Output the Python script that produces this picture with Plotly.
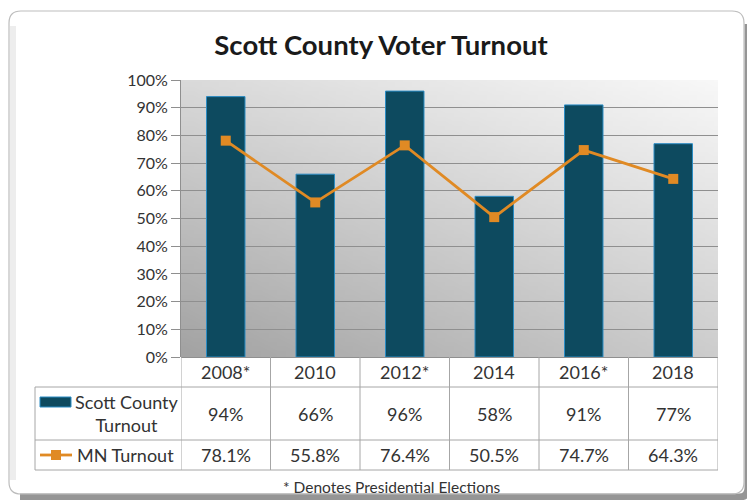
import zlib, struct, base64
import plotly.graph_objects as go

# ---- data ----
years = ["2008*", "2010", "2012*", "2014", "2016*", "2018"]
scott_turnout = [94, 66, 96, 58, 91, 77]
mn_turnout = [78.1, 55.8, 76.4, 50.5, 74.7, 64.3]
y_ticks = [0, 10, 20, 30, 40, 50, 60, 70, 80, 90, 100]
y_tick_labels = [f"{v}%" for v in y_ticks]

OFF = 8                      # page body margin in the browser
W, H = 755 - OFF, 500 - OFF  # figure size
L, R, T, B = 181, 718, 80, 357   # plot area in reference pixels

def px(x):
    return (x - L) / (R - L)

def py(y):
    return (B - y) / (B - T)

# ---- gradient background image (PNG generated in memory) ----
def make_png(w, h):
    rows = []
    for j in range(h):
        yb = 1 - j / (h - 1)  # 1 at top
        row = bytearray()
        for i in range(w):
            xf = i / (w - 1)
            v = 163 + 42 * xf + 55 * yb - 12 * xf * yb
            v = max(0, min(255, int(v)))
            row += bytes((v, v, v))
        rows.append(b"\x00" + bytes(row))
    raw = b"".join(rows)
    def chunk(t, d):
        c = struct.pack(">I", len(d)) + t + d
        return c + struct.pack(">I", zlib.crc32(t + d) & 0xffffffff)
    return (b"\x89PNG\r\n\x1a\n"
            + chunk(b"IHDR", struct.pack(">IIBBBBB", w, h, 8, 2, 0, 0, 0))
            + chunk(b"IDAT", zlib.compress(raw))
            + chunk(b"IEND", b""))

img_uri = "data:image/png;base64," + base64.b64encode(make_png(64, 64)).decode()

FONT = "Lato"
BAR_COLOR = "#0d4a5f"
LINE_COLOR = "#e08a24"
TXT = "#333333"
GRID = "#8f8f8f"
TBL = "#a6a6a6"
TFS = 18  # table font size

fig = go.Figure()
fig.add_trace(go.Bar(
    x=years, y=scott_turnout, name="Scott County Turnout",
    marker=dict(color=BAR_COLOR, line=dict(color="#2b8cc4", width=1)),
    width=0.43, hoverinfo="x+y"))
fig.add_trace(go.Scatter(
    x=years, y=mn_turnout, name="MN Turnout", mode="lines+markers",
    line=dict(color=LINE_COLOR, width=2.8),
    marker=dict(symbol="square", size=10, color=LINE_COLOR)))

shapes = []
annotations = []

def ann(x, y, text, xref="paper", size=TFS, **kw):
    d = dict(x=x, y=y, xref=xref, yref="paper", text=text, showarrow=False,
             xanchor="center", yanchor="middle",
             font=dict(family=FONT, size=size, color=TXT))
    d.update(kw)
    annotations.append(d)

# frame: soft inner band on the left, shadow on right/bottom, light border
shapes.append(dict(type="line", xref="paper", yref="paper",
                   x0=px(13), x1=px(13), y0=py(26), y1=py(480),
                   line=dict(color="#ededed", width=6), layer="below"))
shapes.append(dict(type="path", xref="paper", yref="paper",
                   path=(f"M {px(748)},{py(24)} L {px(748)},{py(488)} "
                         f"Q {px(748)},{py(497)} {px(739)},{py(497)} L {px(20)},{py(497)}"),
                   line=dict(color="#959595", width=7), layer="below"))
r = 12
x0, y0, x1, y1 = 9, 11, 744, 494
path = (f"M {px(x0 + r)},{py(y0)} L {px(x1 - r)},{py(y0)} Q {px(x1)},{py(y0)} {px(x1)},{py(y0 + r)} "
        f"L {px(x1)},{py(y1 - r)} Q {px(x1)},{py(y1)} {px(x1 - r)},{py(y1)} "
        f"L {px(x0 + r)},{py(y1)} Q {px(x0)},{py(y1)} {px(x0)},{py(y1 - r)} "
        f"L {px(x0)},{py(y0 + r)} Q {px(x0)},{py(y0)} {px(x0 + r)},{py(y0)} Z")
shapes.append(dict(type="path", xref="paper", yref="paper", path=path,
                   line=dict(color="#bdbdbd", width=1.2), layer="below"))

# table rows (reference pixel y)
ROW_HDR = (357, 387)
ROW_SC = (387, 440)
ROW_MN = (440, 470)
TBL_LEFT = 35

for yline in (ROW_HDR[1], ROW_SC[1], ROW_MN[1]):
    shapes.append(dict(type="line", xref="paper", yref="paper",
                       x0=px(TBL_LEFT), x1=1, y0=py(yline), y1=py(yline),
                       line=dict(color=TBL, width=1)))
shapes.append(dict(type="line", xref="paper", yref="paper",
                   x0=px(TBL_LEFT), x1=px(TBL_LEFT), y0=py(ROW_HDR[1]), y1=py(ROW_MN[1]),
                   line=dict(color=TBL, width=1)))
for k in range(len(years) + 1):
    shapes.append(dict(type="line", xref="x", yref="paper",
                       x0=k - 0.5, x1=k - 0.5, y0=py(ROW_HDR[0]), y1=py(ROW_MN[1]),
                       line=dict(color=TBL, width=1)))

def mid(row):
    return py((row[0] + row[1]) / 2)

for i, yr in enumerate(years):
    ann(i, mid(ROW_HDR), yr, xref="x")
    ann(i, mid(ROW_SC), f"{scott_turnout[i]:.0f}%", xref="x")
    ann(i, mid(ROW_MN), f"{mn_turnout[i]:.1f}%", xref="x")

# legend keys in table
shapes.append(dict(type="rect", xref="paper", yref="paper",
                   x0=px(40), x1=px(71), y0=py(397), y1=py(407),
                   fillcolor=BAR_COLOR, line=dict(color="#2b8cc4", width=1)))
ann(px(127), mid(ROW_SC), "Scott County<br>Turnout", align="center")
shapes.append(dict(type="line", xref="paper", yref="paper",
                   x0=px(40), x1=px(72), y0=mid(ROW_MN), y1=mid(ROW_MN),
                   line=dict(color=LINE_COLOR, width=2.8)))
shapes.append(dict(type="rect", xref="paper", yref="paper",
                   x0=px(51), x1=px(61), y0=py(450), y1=py(460),
                   fillcolor=LINE_COLOR, line=dict(width=0)))
ann(px(125), mid(ROW_MN), "MN Turnout")

# footnote
ann(px(392), py(487), "* Denotes Presidential Elections", size=15.5)

fig.update_layout(
    width=W, height=H,
    margin=dict(l=L - OFF, r=755 - R, t=T - OFF, b=500 - B, pad=0),
    paper_bgcolor="white", plot_bgcolor="rgba(0,0,0,0)",
    showlegend=False,
    title=dict(text="Scott County Voter Turnout", x=(381 - OFF) / W, xanchor="center",
               y=1 - (45 - OFF) / H, yanchor="middle",
               font=dict(family=FONT, size=27.5, color="#1a1a1a", weight="bold")),
    bargap=0.57,
    images=[dict(source=img_uri, xref="paper", yref="paper", x=0, y=1,
                 sizex=1, sizey=1, xanchor="left", yanchor="top",
                 sizing="stretch", layer="below")],
    shapes=shapes, annotations=annotations,
    xaxis=dict(type="category", range=[-0.5, 5.5], showticklabels=False,
               showgrid=False, showline=False, zeroline=False, ticks=""),
    yaxis=dict(range=[0, 100], tickvals=y_ticks, ticktext=y_tick_labels,
               showgrid=True, gridcolor=GRID, gridwidth=1,
               showline=True, linecolor=GRID, linewidth=1,
               ticks="outside", ticklen=9, tickcolor=GRID,
               zeroline=True, zerolinecolor=GRID, zerolinewidth=1,
               tickfont=dict(family=FONT, size=16, color=TXT)),
)

fig.write_html("out.html")
